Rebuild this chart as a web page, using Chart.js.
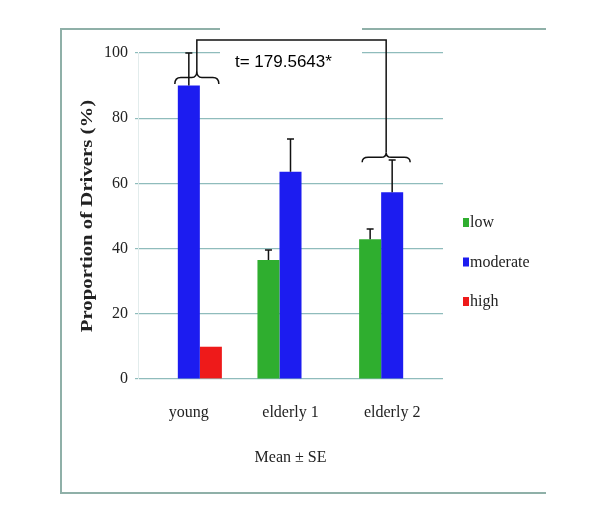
<!DOCTYPE html>
<html>
<head>
<meta charset="utf-8">
<script src="https://cdn.jsdelivr.net/npm/chart.js@4.4.1/dist/chart.umd.min.js"></script>
<style>
  body { margin: 0; background: #fff; }
  #wrap { width: 600px; height: 532px; position: relative; }
</style>
</head>
<body>
<div id="wrap"><canvas id="chart"></canvas></div>
<script>
// data
const groups = ['young', 'elderly 1', 'elderly 2'];
const seriesNames = ['low', 'moderate', 'high'];
const lowVals = [0, 36.5, 42.9];
const moderateVals = [90, 63.6, 57.3];
const highVals = [9.9, 0, 0];
const lowErr = [0, 3.1, 3.1];
const moderateErr = [10, 10, 9.9];
const highErr = [0, 0, 0];
const yTicks = [0, 20, 40, 60, 80, 100];
const yTitle = 'Proportion of Drivers (%)';
const testLabel = 't= 179.5643*';

const colors = ['#2fae2f', '#1c1cf0', '#ee1a1a'];
const serif = '"Liberation Serif", "DejaVu Serif", serif';

// frame around the figure
const framePlugin = {
  id: 'frame',
  beforeDraw(chart) {
    const ctx = chart.ctx;
    ctx.save();
    ctx.strokeStyle = '#8fb0a8';
    ctx.lineWidth = 2;
    ctx.beginPath();
    ctx.moveTo(546, 29);
    ctx.lineTo(61, 29);
    ctx.lineTo(61, 493);
    ctx.lineTo(546, 493);
    ctx.stroke();
    ctx.restore();
  }
};

// one-sided error bars (mean + SE)
const errorPlugin = {
  id: 'errbars',
  afterDatasetsDraw(chart) {
    const ctx = chart.ctx;
    const y = chart.scales.y;
    const errs = [lowErr, moderateErr, highErr];
    ctx.save();
    ctx.strokeStyle = '#111';
    ctx.lineWidth = 1.5;
    chart.data.datasets.forEach((ds, i) => {
      const meta = chart.getDatasetMeta(i);
      meta.data.forEach((bar, j) => {
        const e = errs[i][j];
        if (!e) return;
        const top = y.getPixelForValue(ds.data[j] + e);
        ctx.beginPath();
        ctx.moveTo(bar.x, bar.y);
        ctx.lineTo(bar.x, top);
        ctx.moveTo(bar.x - 3.5, top);
        ctx.lineTo(bar.x + 3.5, top);
        ctx.stroke();
      });
    });
    ctx.restore();
  }
};

function brace(ctx, x1, x2, yTip, yPeak) {
  const mid = (x1 + x2) / 2;
  const yMid = (yTip + yPeak) / 2;
  ctx.beginPath();
  ctx.moveTo(x1, yTip);
  ctx.quadraticCurveTo(x1, yMid, x1 + 6, yMid);
  ctx.lineTo(mid - 5, yMid);
  ctx.quadraticCurveTo(mid, yMid, mid, yPeak);
  ctx.quadraticCurveTo(mid, yMid, mid + 5, yMid);
  ctx.lineTo(x2 - 6, yMid);
  ctx.quadraticCurveTo(x2, yMid, x2, yTip);
  ctx.stroke();
}

// significance bracket, y title, custom legend
const annotPlugin = {
  id: 'annot',
  afterDraw(chart) {
    const ctx = chart.ctx;
    const x = chart.scales.x, y = chart.scales.y;
    const area = chart.chartArea;

    // white text box (hides grid line + frame behind the label)
    ctx.save();
    ctx.fillStyle = '#fff';
    ctx.fillRect(220, 24, 142, 30);

    const xa = x.getPixelForValue(0) + 8;
    const xb = x.getPixelForValue(2) - 6;
    const yTop = y.getPixelForValue(104);
    ctx.strokeStyle = '#111';
    ctx.lineWidth = 1.5;
    ctx.beginPath();
    ctx.moveTo(xa, y.getPixelForValue(94.5));
    ctx.lineTo(xa, yTop);
    ctx.lineTo(xb, yTop);
    ctx.lineTo(xb, y.getPixelForValue(69.5));
    ctx.stroke();
    brace(ctx, xa - 22, xa + 22, y.getPixelForValue(90.5), y.getPixelForValue(94.5));
    brace(ctx, xb - 24, xb + 24, y.getPixelForValue(66.5), y.getPixelForValue(69.5));

    ctx.fillStyle = '#000';
    ctx.font = '17px "Liberation Sans", Arial, sans-serif';
    ctx.textBaseline = 'middle';
    ctx.textAlign = 'left';
    ctx.fillText(testLabel, 235, 62);

    // y axis title, stretched along its length like the original
    ctx.save();
    ctx.translate(88, (area.top + area.bottom) / 2);
    ctx.rotate(-Math.PI / 2);
    ctx.scale(1.3, 1);
    ctx.textAlign = 'center';
    ctx.fillStyle = '#222';
    ctx.font = 'bold 16px ' + serif;
    ctx.fillText(yTitle, 0, 0);
    ctx.restore();

    // legend
    ctx.font = '16px ' + serif;
    ctx.textAlign = 'left';
    chart.data.datasets.forEach((ds, i) => {
      const cy = 223 + i * 39.5;
      ctx.fillStyle = ds.backgroundColor;
      ctx.fillRect(463, cy - 5, 6, 9);
      ctx.fillStyle = '#222';
      ctx.fillText(ds.label, 470, cy);
    });
    ctx.restore();
  }
};

new Chart(document.getElementById('chart'), {
  type: 'bar',
  data: {
    labels: groups,
    datasets: [
      { label: seriesNames[0], data: lowVals, backgroundColor: colors[0] },
      { label: seriesNames[1], data: moderateVals, backgroundColor: colors[1] },
      { label: seriesNames[2], data: highVals, backgroundColor: colors[2] }
    ]
  },
  options: {
    responsive: true,
    maintainAspectRatio: false,
    animation: false,
    layout: { padding: { left: 61, top: 53, right: 157, bottom: 63 } },
    datasets: { bar: { categoryPercentage: 0.65, barPercentage: 1, borderWidth: 0 } },
    plugins: { legend: { display: false }, tooltip: { enabled: false } },
    scales: {
      x: {
        grid: { display: false, drawTicks: false },
        border: { display: false },
        ticks: { color: '#222', padding: 24, font: { family: serif, size: 16 } },
        title: { display: true, text: 'Mean ± SE', color: '#222', padding: { top: 0, bottom: 2 },
                 font: { family: serif, size: 16 } },
        afterFit(s) { s.height = 90; }
      },
      y: {
        min: 0, max: 100,
        afterBuildTicks(s) { s.ticks = yTicks.map(v => ({ value: v })); },
        grid: { color: '#8fbcbc', lineWidth: 1.2, drawTicks: true, tickLength: 3 },
        border: { display: true, color: '#e2ecec' },
        ticks: { color: '#222', padding: 7, font: { family: serif, size: 16 } },
        afterFit(s) { s.width = 77; }
      }
    }
  },
  plugins: [framePlugin, errorPlugin, annotPlugin]
});
</script>
</body>
</html>
